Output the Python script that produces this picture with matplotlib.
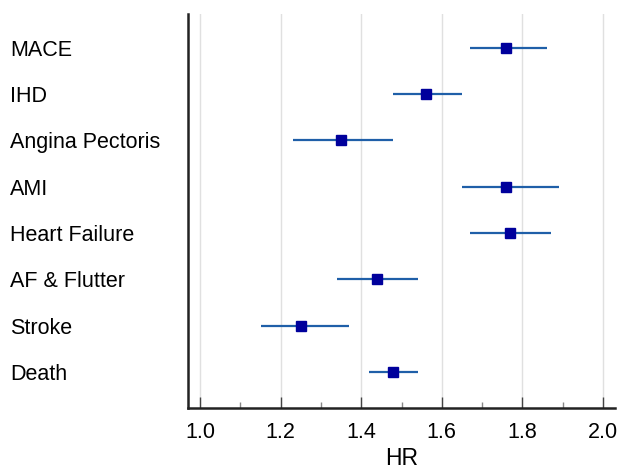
import matplotlib.pyplot as plt
from matplotlib.ticker import MultipleLocator

outcomes = ['MACE', 'IHD', 'Angina Pectoris', 'AMI', 'Heart Failure',
            'AF & Flutter', 'Stroke', 'Death']
hr = [1.76, 1.56, 1.35, 1.76, 1.77, 1.44, 1.25, 1.48]
ci_low = [1.67, 1.48, 1.23, 1.65, 1.67, 1.34, 1.15, 1.42]
ci_high = [1.86, 1.65, 1.48, 1.89, 1.87, 1.54, 1.37, 1.54]

plt.rcParams['font.family'] = ['Liberation Sans', 'DejaVu Sans']

fig = plt.figure(figsize=(6.19, 4.7), dpi=100)
ax = fig.add_axes([188/619, 1 - 408/470, 427/619, 394/470])

ypos = list(range(len(outcomes) - 1, -1, -1))

# CI lines then the point estimates
ax.hlines(ypos, ci_low, ci_high, color='#1f5fa8', lw=1.6, zorder=3)
ax.plot(hr, ypos, 's', color='#00009c', ms=7.3, zorder=4)

# labels on the left, left-aligned
for y, name in zip(ypos, outcomes):
    ax.text(-0.417, y, name, transform=ax.get_yaxis_transform(),
            ha='left', va='center_baseline', fontsize=15.5)

ax.set_xlim(0.97, 2.03)
ax.set_ylim(-0.78, 7.73)
ax.set_yticks([])
ax.xaxis.set_major_locator(MultipleLocator(0.2))
ax.xaxis.set_minor_locator(MultipleLocator(0.1))
ax.xaxis.set_major_formatter(lambda v, p: f'{v:.1f}')
ax.tick_params(axis='x', which='major', direction='in', length=8, width=1,
               labelsize=15.5, pad=10, color='#444444')
ax.tick_params(axis='x', which='minor', direction='in', length=4, width=1,
               color='#888888')
ax.grid(axis='x', which='major', color='#e0e0e0', lw=1, zorder=0)
ax.set_axisbelow(True)

for s in ['top', 'right']:
    ax.spines[s].set_visible(False)
for s in ['left', 'bottom']:
    ax.spines[s].set_linewidth(1.8)
    ax.spines[s].set_color('#222222')

ax.set_xlabel('HR', fontsize=16.5, labelpad=3)

fig.savefig('out.png', dpi=100)
